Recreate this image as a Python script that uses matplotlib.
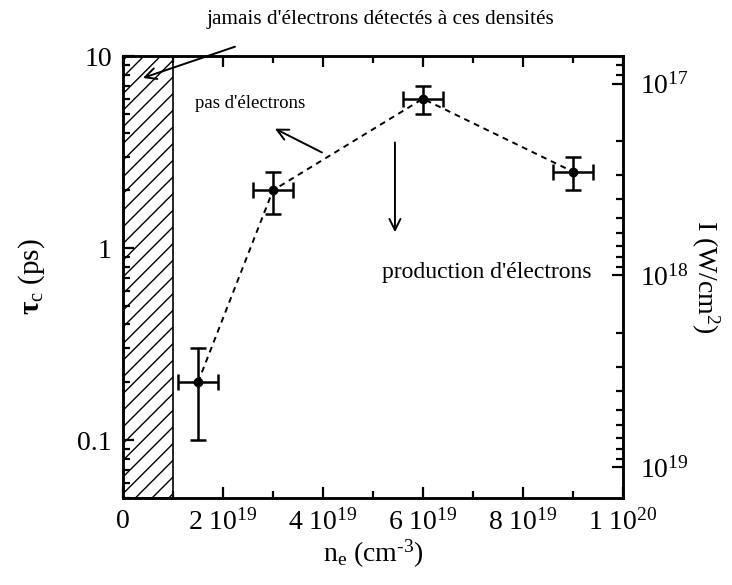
import numpy as np
import matplotlib
matplotlib.use('Agg')
import matplotlib.pyplot as plt
from matplotlib.ticker import FixedLocator, NullFormatter, LogLocator

plt.rcParams['font.family'] = ['Liberation Serif', 'DejaVu Serif']
plt.rcParams['mathtext.fontset'] = 'custom'
plt.rcParams['mathtext.rm'] = 'Liberation Serif'
plt.rcParams['mathtext.it'] = 'Liberation Serif:italic'
plt.rcParams['mathtext.bf'] = 'Liberation Serif:bold'
plt.rcParams['hatch.linewidth'] = 1.0

# donnees (n_e en cm^-3, tau_c en ps)
ne = [1.5e19, 3e19, 6e19, 9e19]
ne_err = [4e18, 4e18, 4e18, 4e18]
tau = [0.2, 2.0, 6.0, 2.5]
tau_lo = [0.1, 1.5, 5.0, 2.0]
tau_hi = [0.3, 2.5, 7.0, 3.0]

# zone sans electrons
zone_max = 1e19

# axe de droite : I = C / tau
C = 7.2e17

xticks = [0, 2e19, 4e19, 6e19, 8e19, 1e20]
xticklabels = ['0', r'2 10$^{19}$', r'4 10$^{19}$', r'6 10$^{19}$', r'8 10$^{19}$', r'1 10$^{20}$']
yticks = [0.1, 1, 10]
yticklabels = ['0.1', '1', '10']

fig = plt.figure(figsize=(7.32, 5.85), dpi=100)
ax = fig.add_axes([0.168, 0.149, 0.683, 0.755])

ax.axvspan(0, zone_max, facecolor='none', edgecolor='black', hatch='//', linewidth=1.2)

ax.plot(ne, tau, linestyle=(0, (3, 2.5)), color='black', linewidth=1.4)
yerr = [np.array(tau) - np.array(tau_lo), np.array(tau_hi) - np.array(tau)]
ax.errorbar(ne, tau, xerr=ne_err, yerr=yerr, fmt='o', color='black', markersize=6,
            elinewidth=1.8, capsize=5.5, capthick=1.8)

ax.set_xlim(0, 1e20)
ax.set_yscale('log')
ax.set_ylim(0.05, 10)

ax.set_xticks(xticks)
ax.set_xticklabels(xticklabels)
ax.xaxis.set_minor_locator(FixedLocator([1e19, 3e19, 5e19, 7e19, 9e19]))
ax.yaxis.set_major_locator(FixedLocator(yticks))
ax.set_yticklabels(yticklabels)
ax.yaxis.set_minor_locator(LogLocator(base=10, subs=np.arange(2, 10)))
ax.yaxis.set_minor_formatter(NullFormatter())

ax.tick_params(which='both', direction='in', top=True, right=False, width=1.6, labelsize=20)
ax.tick_params(which='major', length=8, pad=8)
ax.tick_params(which='minor', length=5)
for s in ax.spines.values():
    s.set_linewidth(1.8)

ax.set_xlabel(r'n$_\mathrm{e}$ (cm$^{\text{-3}}$)', fontsize=20, labelpad=2)
ax.set_ylabel(r'$\mathbf{τ}_\mathrm{c}$ (ps)', fontsize=21, labelpad=22)

# axe de droite en intensite
ax2 = ax.twinx()
ax2.set_yscale('log')
ax2.set_ylim(C / 0.05, C / 10)
ax2.yaxis.set_minor_locator(LogLocator(base=10, subs=np.arange(2, 10)))
ax2.yaxis.set_minor_formatter(NullFormatter())
ax2.tick_params(which='both', direction='in', width=1.6, labelsize=20)
ax2.tick_params(which='major', length=8, pad=12)
ax2.tick_params(which='minor', length=5)
ax2.set_ylabel(r'I (W/cm$^{2}$)', fontsize=20, rotation=270, labelpad=24)
for s in ax2.spines.values():
    s.set_linewidth(1.8)

# annotations
fleche = dict(arrowstyle='->', color='black', lw=1.4, shrinkA=0, shrinkB=0, mutation_scale=20)
ax.text(5.15e19, 15.6, "jamais d'électrons détectés à ces densités", fontsize=15.3,
        ha='center', va='center', clip_on=False)
ax.annotate('', xy=(4e18, 7.7), xytext=(2.24e19, 11.2), annotation_clip=False, arrowprops=fleche)
ax.text(2.54e19, 5.65, "pas d'électrons", fontsize=13.5, ha='center', va='center')
ax.annotate('', xy=(3.04e19, 4.19), xytext=(3.98e19, 3.15), arrowprops=fleche)
ax.annotate('', xy=(5.44e19, 1.21), xytext=(5.44e19, 3.55), arrowprops=fleche)
ax.text(7.28e19, 0.742, "production d'électrons", fontsize=17, ha='center', va='center')

fig.savefig('out.png', dpi=100)
